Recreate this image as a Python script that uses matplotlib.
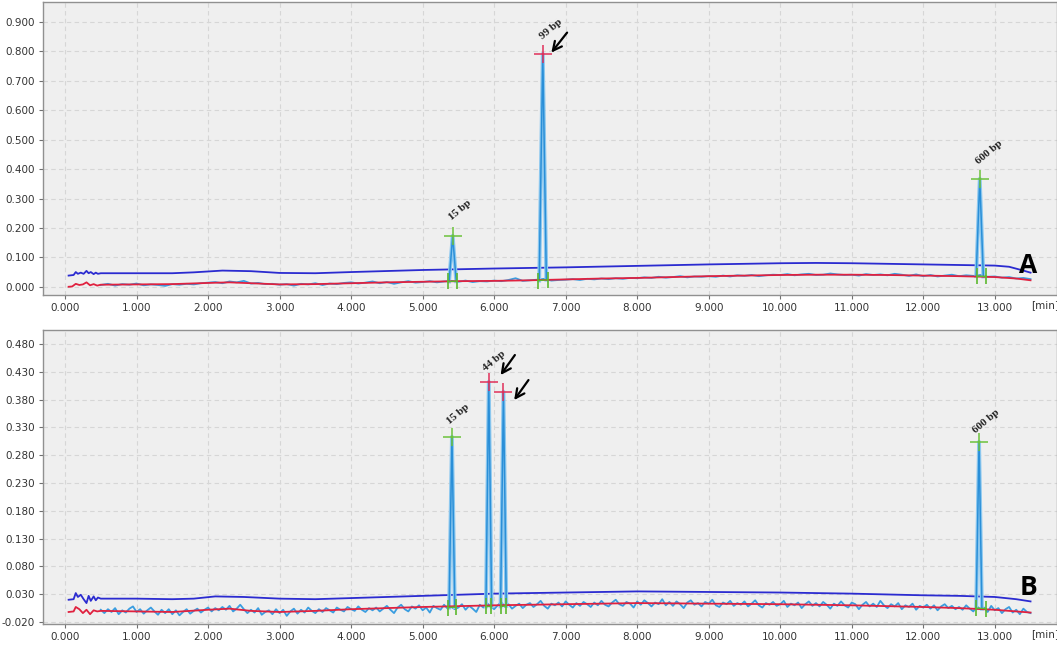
import numpy as np
import matplotlib.pyplot as plt

# ---------------- panel A ----------------
xticks = [0, 1, 2, 3, 4, 5, 6, 7, 8, 9, 10, 11, 12, 13]
yticks_a = [0.0, 0.1, 0.2, 0.3, 0.4, 0.5, 0.6, 0.7, 0.8, 0.9]
yticks_b = [-0.02, 0.03, 0.08, 0.13, 0.18, 0.23, 0.28, 0.33, 0.38, 0.43, 0.48]

# upper (dark blue) trace
blue_a_t = [0.05, 0.12, 0.15, 0.18, 0.22, 0.26, 0.3, 0.33, 0.36, 0.4, 0.43, 0.46, 0.5,
            1.0, 1.5, 1.8, 2.2, 2.6, 3.0, 3.5, 4.0, 5.0, 6.0, 7.0, 8.0, 9.0, 10.0,
            10.5, 11.0, 12.0, 12.5, 13.0, 13.2, 13.4, 13.5]
blue_a_v = [0.038, 0.040, 0.050, 0.044, 0.048, 0.044, 0.054, 0.046, 0.050, 0.043, 0.048, 0.044, 0.046,
            0.046, 0.046, 0.049, 0.055, 0.053, 0.047, 0.046, 0.050, 0.057, 0.062, 0.066, 0.071, 0.076, 0.080,
            0.081, 0.080, 0.076, 0.074, 0.072, 0.068, 0.055, 0.048]

# red baseline
red_a_t = [0.05, 0.1, 0.15, 0.2, 0.25, 0.3, 0.35, 0.4, 0.45, 0.5, 1.0, 1.5, 2.0, 2.3, 2.6,
           3.0, 3.5, 4.0, 4.5, 5.0, 5.5, 6.0, 6.5, 7.0, 7.5, 8.0, 8.5, 9.0, 9.5, 10.0,
           10.5, 11.0, 11.5, 12.0, 12.5, 13.0, 13.3, 13.5]
red_a_v = [0.0, 0.001, 0.010, 0.006, 0.008, 0.015, 0.005, 0.009, 0.004, 0.007, 0.008, 0.009, 0.013, 0.015, 0.012,
           0.008, 0.009, 0.012, 0.015, 0.017, 0.019, 0.020, 0.022, 0.025, 0.028, 0.030, 0.033, 0.036, 0.038, 0.040,
           0.041, 0.041, 0.040, 0.038, 0.036, 0.033, 0.028, 0.022]

# signal (light blue), sampled every 0.1 min from 0.5 to 13.5
sig_a_t = np.round(np.arange(0.5, 13.51, 0.1), 2)
sig_a_v = [0.006, 0.010, 0.004, 0.009, 0.007, 0.011, 0.005, 0.008, 0.006, 0.003, 0.009, 0.007, 0.010, 0.008, 0.012,
           0.014, 0.016, 0.012, 0.018, 0.015, 0.020, 0.011, 0.013, 0.009, 0.010,
           0.007, 0.009, 0.004, 0.010, 0.008, 0.012, 0.006, 0.011, 0.009, 0.013,
           0.015, 0.011, 0.014, 0.018, 0.012, 0.016, 0.010, 0.015, 0.019, 0.014,
           0.016, 0.019, 0.015, 0.018, 0.020, 0.017, 0.021, 0.016, 0.019, 0.018,
           0.021, 0.019, 0.023, 0.029, 0.020, 0.022, 0.024, 0.027, 0.021, 0.023,
           0.024, 0.026, 0.023, 0.027, 0.025, 0.028, 0.026, 0.029, 0.027, 0.030,
           0.029, 0.032, 0.030, 0.034, 0.031, 0.033, 0.036, 0.032, 0.035, 0.034,
           0.036, 0.034, 0.038, 0.035, 0.039, 0.037, 0.040, 0.036, 0.039, 0.041,
           0.040, 0.043, 0.039, 0.042, 0.044, 0.040, 0.041, 0.045, 0.042, 0.040,
           0.041, 0.038, 0.043, 0.040, 0.042, 0.039, 0.044, 0.041, 0.037, 0.042,
           0.036, 0.040, 0.035, 0.038, 0.041, 0.036, 0.039, 0.037, 0.040, 0.034,
           0.035, 0.031, 0.033, 0.028, 0.030, 0.026]

# peaks: (start, apex, end) times and heights
peaks_a_t = [[5.37, 5.42, 5.47], [6.63, 6.68, 6.73], [12.74, 12.79, 12.84]]
peaks_a_v = [[0.018, 0.173, 0.019], [0.021, 0.792, 0.024], [0.036, 0.367, 0.035]]
labels_a = ['15 bp', '99 bp', '600 bp']
apex_red_a = [False, True, False]
pbase_a_t = [[5.35, 5.48], [6.62, 6.75], [12.75, 12.88]]
pbase_a_v = [[0.018, 0.019], [0.021, 0.024], [0.036, 0.035]]
label_pos_a = [(5.52, 0.262), (6.79, 0.874), (12.92, 0.456)]
arrows_a = [((7.02, 0.864), (6.80, 0.796))]

# ---------------- panel B ----------------
blue_b_t = [0.05, 0.12, 0.15, 0.18, 0.22, 0.26, 0.3, 0.33, 0.36, 0.4, 0.43, 0.46, 0.5,
            1.0, 1.5, 1.8, 2.1, 2.5, 3.0, 3.5, 4.0, 5.0, 6.0, 7.0, 8.0, 9.0, 10.0,
            11.0, 12.0, 12.5, 13.0, 13.3, 13.5]
blue_b_v = [0.020, 0.021, 0.032, 0.025, 0.029, 0.021, 0.014, 0.027, 0.018, 0.026, 0.019, 0.024, 0.022,
            0.022, 0.021, 0.022, 0.026, 0.025, 0.022, 0.021, 0.023, 0.027, 0.031, 0.033, 0.035, 0.034, 0.033,
            0.031, 0.028, 0.027, 0.025, 0.021, 0.017]

red_b_t = [0.05, 0.12, 0.15, 0.2, 0.25, 0.3, 0.35, 0.4, 0.45, 0.5, 1.0, 1.5, 2.0, 2.3, 2.6,
           3.0, 3.5, 4.0, 5.0, 6.0, 7.0, 8.0, 9.0, 10.0, 11.0, 12.0, 12.5, 13.0, 13.5]
red_b_v = [-0.002, -0.001, 0.007, 0.003, -0.004, 0.002, -0.006, 0.001, -0.001, 0.000, -0.001, -0.002, 0.002, 0.004, 0.000,
           -0.002, 0.000, 0.003, 0.007, 0.010, 0.012, 0.014, 0.013, 0.012, 0.010, 0.007, 0.005, 0.002, -0.003]

# signal (light blue), sampled every 0.05 min from 0.5 to 13.5
sig_b_t = np.round(np.arange(0.5, 13.501, 0.05), 3)
sig_b_v = [0.002, -0.004, 0.003, -0.002, 0.005, -0.006, 0.001, -0.003, 0.004, 0.008, -0.002, 0.003, -0.005, 0.001, 0.006, -0.001, -0.007, 0.002, -0.004, 0.003,
           -0.006, 0.001, -0.008, -0.002, 0.003, -0.005, 0.000, 0.004, -0.003, 0.002, 0.006, -0.001, 0.005, 0.001, 0.007, 0.002, 0.009, -0.001, 0.004, 0.011,
           0.003, -0.004, 0.002, -0.003, 0.005, -0.007, -0.002, 0.001, -0.006, 0.003, -0.004, 0.002, -0.009, -0.001, 0.004, -0.005, 0.002, -0.003, 0.006, 0.000,
           -0.004, 0.003, -0.002, 0.005, 0.001, -0.003, 0.006, 0.002, -0.001, 0.007, 0.003, 0.000, 0.008, 0.002, -0.002, 0.005, 0.001, 0.006, -0.001, 0.004,
           0.009, 0.002, -0.004, 0.006, 0.011, 0.003, -0.001, 0.008, 0.004, 0.010, 0.001, 0.006, -0.003, 0.009, 0.005, 0.002, 0.011, 0.004, 0.007, 0.003,
           0.006, 0.012, 0.002, 0.009, 0.004, -0.002, 0.011, 0.006, 0.014, 0.008, 0.003, 0.010, 0.016, 0.007, 0.012, 0.004, 0.009, 0.013, 0.005, 0.011,
           0.014, 0.007, 0.012, 0.018, 0.009, 0.004, 0.013, 0.010, 0.015, 0.008, 0.017, 0.011, 0.006, 0.014, 0.009, 0.016, 0.012, 0.007, 0.015, 0.010,
           0.018, 0.011, 0.008, 0.015, 0.020, 0.012, 0.009, 0.016, 0.013, 0.006, 0.017, 0.011, 0.019, 0.014, 0.008, 0.015, 0.012, 0.021, 0.010, 0.016,
           0.009, 0.017, 0.012, 0.005, 0.015, 0.019, 0.011, 0.014, 0.008, 0.016, 0.013, 0.020, 0.010, 0.007, 0.015, 0.012, 0.018, 0.009, 0.014, 0.011,
           0.017, 0.008, 0.013, 0.019, 0.010, 0.006, 0.014, 0.011, 0.016, 0.009, 0.012, 0.018, 0.007, 0.013, 0.010, 0.015, 0.005, 0.012, 0.017, 0.009,
           0.014, 0.008, 0.016, 0.011, 0.004, 0.013, 0.009, 0.017, 0.010, 0.006, 0.015, 0.012, 0.003, 0.011, 0.016, 0.008, 0.013, 0.007, 0.018, 0.010,
           0.005, 0.012, 0.008, 0.014, 0.003, 0.010, 0.007, 0.013, 0.002, 0.009, 0.006, 0.011, 0.004, 0.010, 0.001, 0.008, 0.012, 0.005, 0.009, 0.003,
           0.007, 0.002, 0.010, 0.004, -0.001, 0.008, 0.003, 0.006, -0.002, 0.009, 0.001, 0.005, -0.004, 0.003, 0.007, -0.003, 0.002, -0.006, 0.004, -0.002,
           -0.004]

peaks_b_t = [[5.37, 5.41, 5.45], [5.885, 5.925, 5.965], [6.09, 6.13, 6.17], [12.74, 12.78, 12.82]]
peaks_b_v = [[0.006, 0.313, 0.007], [0.008, 0.412, 0.008], [0.008, 0.394, 0.009], [0.005, 0.304, 0.004]]
labels_b = ['15 bp', '44 bp', '', '600 bp']
apex_red_b = [False, True, True, False]
pbase_b_t = [[5.36, 5.47], [5.88, 5.96], [6.10, 6.16], [12.74, 12.88]]
pbase_b_v = [[0.006, 0.007], [0.008, 0.008], [0.008, 0.009], [0.005, 0.004]]
label_pos_b = [(5.49, 0.354), (6.0, 0.449), None, (12.88, 0.341)]
arrows_b = [((6.29, 0.460), (6.09, 0.424)), ((6.48, 0.415), (6.28, 0.379))]


def draw_panel(ax, blue_t, blue_v, red_t, red_v, sig_t, sig_v,
               pk_t, pk_v, labels, apex_red, pb_t, pb_v, lab_pos, arrows,
               yticks, ylim, letter, letter_y):
    ax.set_facecolor('#efefef')
    ax.plot(blue_t, blue_v, color='#2b2bd0', lw=1.3, zorder=3)
    ax.plot(sig_t, sig_v, color='#3a9de0', lw=1.3, zorder=4)
    for t, v in zip(pk_t, pk_v):
        ax.plot(t, v, color='#8cc8ef', lw=2.8, zorder=4)
        ax.plot(t, v, color='#2a8fd8', lw=1.1, zorder=5)
    ax.plot(red_t, red_v, color='#e0213f', lw=1.3, zorder=5)

    for i in range(len(pk_t)):
        # integration baseline and start/end ticks
        ax.plot(pb_t[i], pb_v[i], color='#5cb82e', lw=1.0, zorder=6)
        ax.plot(pb_t[i], pb_v[i], ls='none', marker='|', ms=11, mew=1.2,
                color='#5cb82e', zorder=6)
        c = '#e0305a' if apex_red[i] else '#6cc23c'
        ax.plot(pk_t[i][1], pk_v[i][1], marker='+', ms=13, mew=1.1, color=c, zorder=7)
        if labels[i]:
            ax.text(lab_pos[i][0], lab_pos[i][1], labels[i], rotation=40,
                    ha='center', va='center', fontsize=8, fontweight='bold',
                    family='Liberation Serif', color='#222222', zorder=8)
    for start, end in arrows:
        ax.annotate('', xy=end, xytext=start,
                    arrowprops=dict(arrowstyle='->', lw=1.6, color='black',
                                    mutation_scale=16, shrinkA=0, shrinkB=0),
                    zorder=8)

    ax.set_xlim(-0.308, 13.87)
    ax.set_ylim(*ylim)
    ax.set_xticks(xticks)
    ax.set_xticklabels(['%.3f' % x for x in xticks])
    ax.set_yticks(yticks)
    ax.set_yticklabels(['%.3f' % y for y in yticks])
    ax.grid(True, color='#d6d6d6', ls=(0, (4, 3)), lw=0.8)
    ax.set_axisbelow(True)
    ax.tick_params(labelsize=7.5, labelcolor='#333333', color='#707070',
                   length=3, width=0.8, pad=3)
    for s in ax.spines.values():
        s.set_color('#909090')
        s.set_linewidth(1.0)
    ax.text(0.988, -0.035, '[min]', transform=ax.transAxes, ha='center', va='center',
            fontsize=7.5, color='#333333')
    ax.text(0.972, letter_y, letter, transform=ax.transAxes, ha='center', va='center',
            fontsize=19, fontweight='bold', family='Open Sans', color='black', zorder=9)


fig = plt.figure(figsize=(10.57, 6.45), dpi=100)
ax_a = fig.add_axes([43 / 1057, 1 - 295 / 645, 1 - 43 / 1057, 293 / 645])
ax_b = fig.add_axes([43 / 1057, 1 - 624 / 645, 1 - 43 / 1057, 294 / 645])

draw_panel(ax_a, blue_a_t, blue_a_v, red_a_t, red_a_v, sig_a_t, sig_a_v,
           peaks_a_t, peaks_a_v, labels_a, apex_red_a, pbase_a_t, pbase_a_v,
           label_pos_a, arrows_a, yticks_a, (-0.028, 0.968), 'A', 0.10)
draw_panel(ax_b, blue_b_t, blue_b_v, red_b_t, red_b_v, sig_b_t, sig_b_v,
           peaks_b_t, peaks_b_v, labels_b, apex_red_b, pbase_b_t, pbase_b_v,
           label_pos_b, arrows_b, yticks_b, (-0.0236, 0.505), 'B', 0.125)

fig.savefig('out.png', dpi=100)
